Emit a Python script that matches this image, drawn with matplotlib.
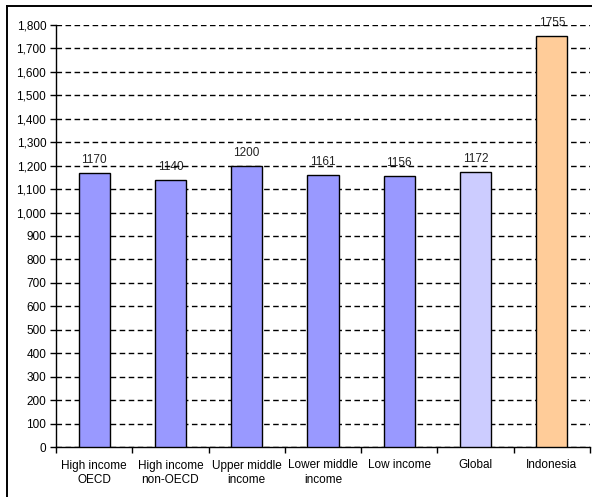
import numpy as np
import matplotlib
matplotlib.use("Agg")
import matplotlib.pyplot as plt
from matplotlib.lines import Line2D

plt.rcParams['font.family'] = ['Liberation Sans', 'DejaVu Sans']

###############################################################################
# Data
categories = ['High income\nOECD', 'High income\nnon-OECD', 'Upper middle\nincome',
              'Lower middle\nincome', 'Low income', 'Global', 'Indonesia']
values = [1170, 1140, 1200, 1161, 1156, 1172, 1755]
colors = ['#9999FF', '#9999FF', '#9999FF', '#9999FF', '#9999FF', '#CCCCFF', '#FFCC99']

y_ticks = np.arange(0, 1801, 100)

###############################################################################
# Plot
fig = plt.figure(figsize=(5.92, 4.97), dpi=100)
ax = fig.add_axes([56/592, 1 - 447/497, 534/592, 422/497])

x = np.arange(len(categories))
ax.bar(x, values, width=0.41, color=colors, edgecolor='black', linewidth=1.0, zorder=3)

for xi, v in zip(x, values):
    ax.text(xi, v + 30, str(v), ha='center', va='bottom', fontsize=8.5, color='#222222', zorder=1)

ax.set_xlim(-0.5, len(categories) - 0.5)
ax.set_ylim(0, 1800)
ax.set_yticks(y_ticks)
ax.set_yticklabels(['{:,}'.format(t) for t in y_ticks], fontsize=8.5)

ax.set_xticks(np.arange(-0.5, len(categories), 1.0))
ax.set_xticklabels([])
ax.set_xticks(x, minor=True)
ax.set_xticklabels(categories, minor=True, fontsize=8.5, linespacing=1.25)
ax.tick_params(axis='x', which='minor', length=0, pad=9)
ax.tick_params(axis='x', which='major', length=4, width=1, direction='out')
ax.tick_params(axis='y', length=4, width=1, direction='out', pad=3)

ax.yaxis.grid(True, linestyle=(0, (4, 2.5)), color='black', linewidth=1.0, zorder=2)
ax.set_axisbelow(False)
for gl in ax.get_ygridlines():
    gl.set_zorder(2)

ax.spines['top'].set_visible(False)
ax.spines['right'].set_visible(False)
ax.spines['left'].set_linewidth(1.0)
ax.spines['bottom'].set_linewidth(1.0)

# outer frame (left and top edges visible)
fig.add_artist(Line2D([7/592, 7/592], [0, 1 - 6/497], color='black', linewidth=1.4))
fig.add_artist(Line2D([7/592, 1], [1 - 6/497, 1 - 6/497], color='black', linewidth=1.4))

fig.savefig('out.png', dpi=100)
